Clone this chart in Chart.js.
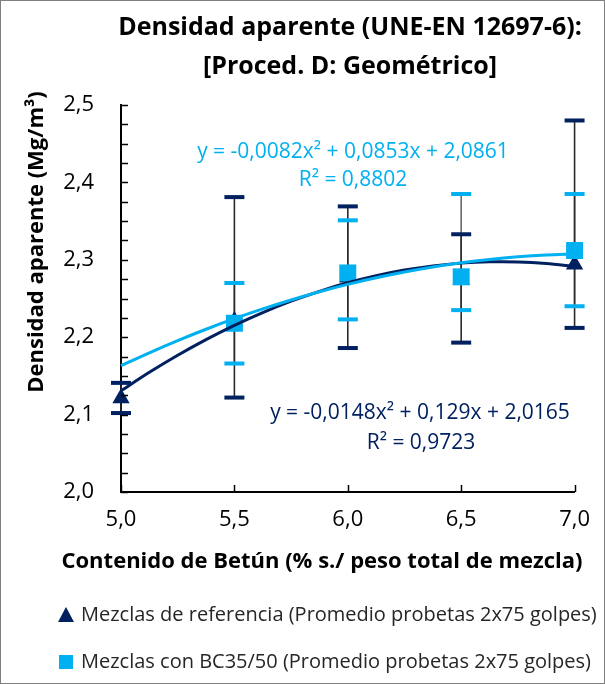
<!DOCTYPE html>
<html><head><meta charset="utf-8">
<script src="https://cdn.jsdelivr.net/npm/chart.js@4/dist/chart.umd.min.js"></script>
<style>html,body{margin:0;padding:0;background:#fff;}</style>
</head><body>
<canvas id="c" width="605" height="684"></canvas>
<script>
// ---- data ----
const bitumen = [5.0, 5.5, 6.0, 6.5, 7.0];
const refMean = [2.121, 2.221, 2.277, 2.274, 2.294];
const refLow  = [2.102, 2.122, 2.186, 2.193, 2.212];
const refHigh = [2.141, 2.381, 2.369, 2.333, 2.480];
const bcMean  = [null, 2.218, 2.283, 2.278, 2.312];
const bcLow   = [null, 2.166, 2.223, 2.235, 2.240];
const bcHigh  = [null, 2.270, 2.351, 2.385, 2.385];
const trendX   = [5.0,5.125,5.25,5.375,5.5,5.625,5.75,5.875,6.0,6.125,6.25,6.375,6.5,6.625,6.75,6.875,7.0];
const refTrend = [2.1307,2.1546,2.1767,2.1969,2.2153,2.2318,2.2465,2.2593,2.2703,2.2794,2.2867,2.2921,2.2957,2.2974,2.2973,2.2953,2.2915];
const bcTrend  = [2.1632,2.1799,2.1956,2.2103,2.2239,2.2365,2.2481,2.2587,2.2682,2.2767,2.2842,2.2907,2.2961,2.3005,2.3039,2.3063,2.3076];
const xTickLabels = ['5,0','5,5','6,0','6,5','7,0'];
const yTickLabels = ['2,0','2,1','2,2','2,3','2,4','2,5'];
const seriesNames = ['Mezclas de referencia (Promedio probetas 2x75 golpes)','Mezclas con BC35/50 (Promedio probetas 2x75 golpes)'];
const titleLines = ['Densidad aparente (UNE-EN 12697-6):','[Proced. D: Geométrico]'];
const xTitle = 'Contenido de Betún (% s./ peso total de mezcla)';
const yTitle = 'Densidad aparente (Mg/m³)';
const refEq = ['y = -0,0148x² + 0,129x + 2,0165','R² = 0,9723'];
const bcEq  = ['y = -0,0082x² + 0,0853x + 2,0861','R² = 0,8802'];

const NAVY = '#002060', CYAN = '#00B0F0';
const FONT = "'Open Sans', sans-serif";
Chart.defaults.font.family = FONT;

const pts = (xs, ys) => xs.map((x,i)=>({x, y: ys[i]}));

const errorBars = {
  id:'errorBars',
  beforeDatasetsDraw(chart){
    const {ctx, scales:{x,y}} = chart;
    const sets = [
      {mean:bcMean, lo:bcLow, hi:bcHigh, col:CYAN, line:'#6a6a6a'},
      {mean:refMean, lo:refLow, hi:refHigh, col:NAVY, line:'#2a2a2a'}
    ];
    ctx.save();
    sets.forEach(s=>{
      bitumen.forEach((b,i)=>{
        if (s.mean[i]==null) return;
        const px = x.getPixelForValue(b);
        ctx.strokeStyle = s.line; ctx.lineWidth = 1.6;
        ctx.beginPath(); ctx.moveTo(px, y.getPixelForValue(s.lo[i])); ctx.lineTo(px, y.getPixelForValue(s.hi[i])); ctx.stroke();
      });
    });
    sets.forEach(s=>{
      bitumen.forEach((b,i)=>{
        if (s.mean[i]==null) return;
        const px = x.getPixelForValue(b);
        ctx.fillStyle = s.col;
        [s.lo[i], s.hi[i]].forEach(v=>{
          const py = y.getPixelForValue(v);
          ctx.fillRect(px-10, py-2, 20, 4);
        });
      });
    });
    ctx.restore();
  }
};

const inTicks = {
  id:'inTicks',
  afterDraw(chart){
    const {ctx, chartArea:a, scales:{x,y}} = chart;
    ctx.save();
    ctx.strokeStyle = '#000'; ctx.lineWidth = 1.5;
    const yt = y.ticks.map(t=>t.value);
    for (let i=0;i<yt.length;i++){
      const vals = [yt[i]];
      if (i<yt.length-1) for (let k=1;k<4;k++) vals.push(yt[i]+(yt[i+1]-yt[i])*k/4);
      vals.forEach(v=>{
        const py = Math.round(y.getPixelForValue(v))+0.5;
        ctx.beginPath(); ctx.moveTo(a.left, py); ctx.lineTo(a.left+7, py); ctx.stroke();
      });
    }
    x.ticks.forEach(t=>{
      const px = Math.round(x.getPixelForValue(t.value))+0.5;
      ctx.beginPath(); ctx.moveTo(px, a.bottom); ctx.lineTo(px, a.bottom-7); ctx.stroke();
    });
    ctx.restore();
  }
};

const texts = {
  id:'texts',
  afterDraw(chart){
    const {ctx} = chart;
    ctx.save();
    ctx.strokeStyle = '#7f7f7f'; ctx.lineWidth = 1;
    ctx.strokeRect(0.5,0.5,604,683);
    ctx.textAlign='center'; ctx.textBaseline='middle';
    ctx.fillStyle='#000';
    ctx.font = `bold 25px ${FONT}`;
    ctx.fillText(titleLines[0], 350, 28);
    ctx.fillText(titleLines[1], 350, 67);
    ctx.font = `bold 22px ${FONT}`;
    ctx.fillText(xTitle, 322, 562);
    ctx.save(); ctx.translate(37, 242); ctx.rotate(-Math.PI/2); ctx.fillText(yTitle, 0, 0); ctx.restore();
    ctx.font = `21px ${FONT}`;
    ctx.fillStyle = CYAN;
    ctx.fillText(bcEq[0], 353, 152); ctx.fillText(bcEq[1], 353, 180);
    ctx.fillStyle = NAVY;
    ctx.fillText(refEq[0], 420, 413); ctx.fillText(refEq[1], 421, 443);
    // legend
    ctx.fillStyle = NAVY;
    ctx.beginPath(); ctx.moveTo(66, 607); ctx.lineTo(74, 622); ctx.lineTo(58, 622); ctx.closePath(); ctx.fill();
    ctx.fillStyle = CYAN;
    ctx.fillRect(59, 655, 14, 14);
    ctx.fillStyle = '#262626'; ctx.textAlign='left';
    ctx.font = `20px ${FONT}`;
    ctx.fillText(seriesNames[0], 81, 615);
    ctx.fillText(seriesNames[1], 81, 662);
    ctx.restore();
  }
};

new Chart(document.getElementById('c'), {
  type:'scatter',
  data:{ datasets:[
    {label:'trend BC', data:pts(trendX,bcTrend), showLine:true, borderColor:CYAN, borderWidth:3, pointRadius:0, tension:0.3, order:0, clip:false},
    {label:'trend ref', data:pts(trendX,refTrend), showLine:true, borderColor:NAVY, borderWidth:3, pointRadius:0, tension:0.3, order:1, clip:false},
    {label:seriesNames[1], data:pts(bitumen,bcMean), pointStyle:'rect', pointRadius:12, backgroundColor:CYAN, borderWidth:0, order:2, clip:false},
    {label:seriesNames[0], data:pts(bitumen,refMean), pointStyle:'triangle', pointRadius:10, backgroundColor:NAVY, borderWidth:0, order:3, clip:false}
  ]},
  options:{
    responsive:false, animation:false,
    layout:{padding:{left:0,right:30,top:105,bottom:142}},
    plugins:{legend:{display:false}, tooltip:{enabled:false}, title:{display:false}},
    scales:{
      x:{type:'linear', min:5, max:7,
        afterFit(s){ s.height = 50; },
        grid:{display:false, drawTicks:false},
        border:{display:true, color:'#000', width:2},
        ticks:{stepSize:0.5, padding:15, color:'#000', font:{size:22}, maxRotation:0,
          callback:(v,i)=>xTickLabels[i]}},
      y:{type:'linear', min:2.0, max:2.5,
        afterFit(s){ s.width = 121; },
        grid:{display:false, drawTicks:false},
        border:{display:true, color:'#000', width:2},
        ticks:{stepSize:0.1, padding:27, color:'#000', font:{size:22},
          callback:(v,i)=>yTickLabels[i]}}
    }
  },
  plugins:[errorBars, inTicks, texts]
});
</script>
</body></html>
